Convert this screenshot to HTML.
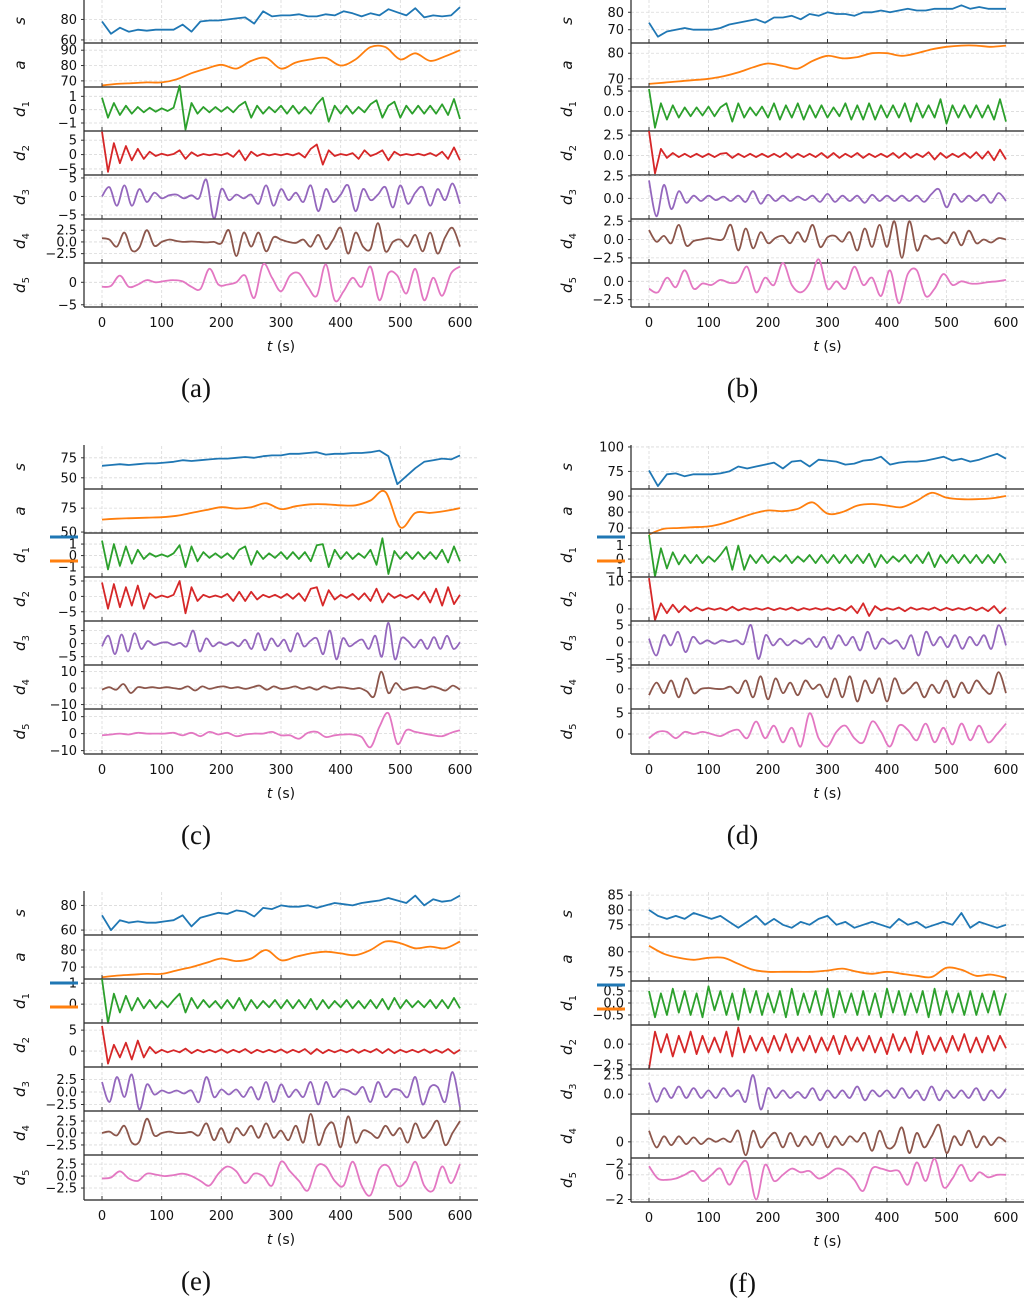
<!DOCTYPE html>
<html><head><meta charset="utf-8"><style>
body{margin:0;background:#fff}
svg{display:block;font-family:"DejaVu Sans","Liberation Sans",sans-serif}
</style></head><body>
<svg id="fig" width="1024" height="1300" viewBox="0 0 1024 1300" xmlns="http://www.w3.org/2000/svg"></svg>
<script>
// ---------- data (t spans 0..600 s, evenly spaced per array) ----------
const xTicks = [0,100,200,300,400,500,600];
const seriesNames = ['s','a','d1','d2','d3','d4','d5'];
const colors = ['#1f77b4','#ff7f0e','#2ca02c','#d62728','#9467bd','#8c564b','#e377c2'];

const aS=[78,66,72,68,70,69,70,70,70,75,68,78,79,79,80,81,82,76,88,83,84,84,85,83,83,85,84,88,86,83,86,84,90,87,84,91,82,84,83,84,92];
const aA=[67,68,68.5,69,69,71,75,78,80.5,78,83,85,78,82,84,85,80,84,92,92,84,88,83,86,90];
const aD1=[0.9,-0.6,0.5,-0.4,0.3,-0.3,0.2,-0.2,0.15,-0.15,0.1,-0.1,0.15,1.8,-1.5,0.5,-0.3,0.2,-0.2,0.2,-0.15,0.2,-0.2,0.3,0.6,-0.6,0.3,-0.3,0.2,-0.2,0.3,-0.3,0.3,-0.3,0.2,-0.3,0.4,0.9,-0.9,0.3,-0.3,0.3,-0.3,0.2,-0.2,0.4,0.7,-0.6,0.3,0.6,-0.6,0.3,-0.3,0.3,-0.3,0.3,-0.3,0.4,-0.4,0.8,-0.7];
const aD2=[8,-6,4,-3,3,-2,2,-1.5,1,-0.5,0.3,-0.3,0.2,1.5,-1.5,0.8,-0.5,0.2,-0.2,0.2,-0.2,0.5,-0.8,1.5,-2,1,-0.5,0.3,-0.3,0.2,-0.2,0.3,-0.3,0.5,-1,2,3.5,-3.5,1.5,-0.5,0.2,-0.2,0.5,-1.5,1.5,-0.5,0.3,1.5,-2,1,-0.3,0.2,-0.2,0.3,-0.3,0.5,-0.5,1,-1.5,2.5,-2];
const aD3=[0,2.5,-2.5,3,-2.5,2,-1.5,1,-0.5,0.3,0.5,-0.5,0.3,-0.5,4.5,-6,2,-1,0.5,-0.5,0.5,-2,3,-2.5,2,-1,1,-1.5,3,-4,2,-1.5,0.5,3,-4,2,-1,0.5,2.5,-3,3,-2,1,2.5,-2.5,2,-1,3.5,-2];
const aD4=[0.8,0.5,-1,2,-1.8,-1.2,2.5,-0.8,0,0.5,0.2,0,0.1,0,-0.1,0,-0.3,2.5,-3,2,-1,2,-2,1,0.5,0,-0.2,0.5,-1,1.5,-1.5,0.5,3,-2.5,2,-1,-1.5,4,-2,0,0.5,-1,1.5,-2,2,-2.5,1,3,-1];
const aD5=[-1,-0.8,1.5,-1,-0.5,0.5,0,0.3,0.5,0.2,-1,-1.5,3,-0.5,-0.5,0,1.5,-3.5,4,1,-2,1.5,2,-1,-3,4,-4,-2,1,-1,3.5,-4,2,1.5,-2.5,3,-4,1,-3,2,3.5];

const bS=[74,66,69,70,71,70,70,70,71,73,74,75,76,74,77,77,78,76,79,78,80,79,79,78,80,80,81,80,81,82,81,81,82,82,82,84,82,83,82,82,82];
const bA=[68,68.5,69,69.5,70,71,72.5,74.5,76,75,74,77,79,78,78.5,80,80,79,80,81.5,82.5,83,83,82.5,83];
const bD1=[0.55,-0.4,0.2,-0.2,0.15,-0.15,0.1,-0.12,0.1,-0.1,0.12,-0.12,0.1,0.2,-0.25,0.2,-0.15,0.1,-0.1,0.12,-0.15,0.2,-0.2,0.15,-0.15,0.2,-0.2,0.15,-0.15,0.15,-0.15,0.1,-0.12,0.2,-0.2,0.15,-0.2,0.2,-0.2,0.15,-0.15,0.15,-0.15,0.2,-0.25,0.2,-0.15,0.15,-0.15,0.3,-0.3,0.15,-0.15,0.15,-0.15,0.15,-0.15,0.15,-0.2,0.3,-0.25];
const bD2=[3,-2.2,0.8,-0.3,0.3,-0.2,0.2,-0.2,0.2,-0.2,0.2,-0.2,0.2,0.3,-0.3,0.2,-0.2,0.2,-0.2,0.2,-0.2,0.2,-0.2,0.3,-0.3,0.2,-0.2,0.2,-0.2,0.3,-0.3,0.3,-0.3,0.2,-0.2,0.3,-0.3,0.2,-0.2,0.2,-0.2,0.3,-0.3,0.3,-0.3,0.2,-0.2,0.4,-0.5,0.3,-0.3,0.2,-0.2,0.3,-0.3,0.4,-0.4,0.5,-0.6,0.7,-0.5];
const bD3=[2,-2,1.5,-1.2,0.8,-0.5,0.3,-0.3,0.3,-0.2,0.2,-0.3,0.3,-0.4,0.8,-0.6,0.4,-0.3,0.3,-0.3,0.2,-0.2,0.3,-0.4,0.5,-0.4,0.3,-0.3,0.3,-0.5,0.4,-0.3,0.3,-0.3,0.3,-0.3,0.3,-0.4,0.5,1,-1,0.5,-0.4,0.3,-0.3,0.4,-0.5,0.6,-0.3];
const bD4=[1.3,-0.3,0.5,-0.5,2,-0.8,-0.2,0,0.2,0,0.1,2,-1.5,1.5,-1.2,1,-0.5,0.2,0.5,-0.5,1,-0.3,2,-1,0.3,0.5,-0.3,1,-1.5,1.5,-1,2,-1,2.5,-2.5,2.5,-1.5,0.5,0,0.2,-0.5,1,-0.8,1.2,-0.5,0,-0.4,0.2,0];
const bD5=[-1,-1.5,0.5,-0.8,1.5,-1,-0.3,-0.5,0.2,-0.2,0,2,-1.5,0.5,-0.5,2.5,-0.5,-1.5,-0.2,3,-1,0,-1,2,-0.5,0.5,-2,1.5,-3,1,1.5,-2,-1,1,-0.5,0,-0.3,-0.3,-0.1,0,0.2];

const cS=[65,66,67,66,67,68,68,69,70,72,71,72,73,74,74,75,76,75,77,78,78,80,80,81,82,79,80,80,81,81,82,84,77,42,52,62,70,72,74,73,78];
const cA=[63,64,64.5,65,65.5,67,70,73,76,74.5,76,80,74,77,79,79,78,78,83,92,55,70,70,72,75];
const cD1=[1.3,-1.2,1,-0.9,0.8,-0.7,0.5,-0.3,0.2,-0.1,0.1,-0.1,0.2,0.9,-1,0.8,-0.5,0.3,-0.2,0.2,-0.2,0.2,-0.3,0.5,0.8,-0.8,0.4,-0.3,0.2,-0.2,0.3,-0.3,0.3,-0.3,0.3,-0.5,0.9,1,-1,0.5,-0.3,0.3,-0.3,0.2,-0.2,0.5,-0.8,1.5,-1.6,0.4,-0.3,0.3,-0.3,0.3,-0.3,0.3,-0.3,0.5,-0.6,0.8,-0.5];
const cD2=[4.5,-4,4,-3.5,3,-3,3.5,-4,1,-0.5,0.3,-0.3,0.5,5,-5.5,3,-1.5,0.5,-0.3,0.3,-0.3,0.8,-1.5,1.5,-1.5,1.5,-1,0.5,-0.3,0.5,-0.5,0.8,-0.8,1,-1.5,2.5,3,-3,2,-1,0.5,-0.5,0.8,-1,1,-1.5,2.5,-2,1,-0.5,0.5,-0.5,0.5,-1,1.5,-2,2.5,-3,3,-2.5,0.5];
const cD3=[-1,3,-4,3.5,-3,4,-2,1,-0.5,0.3,0.5,-0.5,0.3,-1,5,-3,2,-1,0.5,-0.5,0.5,-1,1.5,-2,4,-2.5,2,-1,1.5,-3,4,-1,1,2,-4,5,-6,2,-1,0.5,1.5,-2,3,-5,8,-6,2,1,-1.5,1.5,-2,2.5,-2,3,-2,0.5];
const cD4=[-1,0.5,-1,2.5,-3,0.5,0,0.5,0,0.5,0,-0.5,1,-1.5,1,-0.5,0.5,1,0,0.5,-0.5,0.5,1.5,-1,1,-0.5,0,1,-0.5,0.5,-1,1,-0.3,0.5,0.2,-0.5,0,-2,-5,10,-3,3,-1,0,0.5,-0.5,1,0,-1.5,1.5,-1];
const cD5=[-1,-0.5,0,-0.5,0.5,0,0,0,0.5,-1,0.5,-1.5,1,-0.5,0.5,-1.5,-0.5,0,0,1,-1,-1,-3,0.5,1,-2,-1,-0.5,-0.5,-2,-8,4,12,-6,2,1,0,-1,-1.5,0.5,2];

const dS=[76,60,72,73,70,72,72,72,73,75,80,78,80,82,84,78,85,86,80,87,86,85,82,83,86,87,90,82,84,85,85,86,88,90,86,88,85,87,90,93,88];
const dA=[66,69.5,70,70.5,71,73,76,79,81,80.5,82,86,79,80,84,85,84,83,87,92,89,88,88,88.5,90];
const dD1=[1.8,-1.3,0.8,-0.7,0.5,-0.4,0.3,-0.3,0.3,-0.3,0.2,-0.2,0.3,0.9,-0.8,1,-0.8,0.3,-0.3,0.3,-0.3,0.2,-0.2,0.3,-0.3,0.2,-0.2,0.3,-0.3,0.3,-0.3,0.3,-0.3,0.3,-0.3,0.3,-0.3,0.4,-0.6,0.3,-0.3,0.2,-0.2,0.3,-0.3,0.3,-0.3,0.5,-0.6,0.3,-0.3,0.3,-0.3,0.3,-0.3,0.3,-0.3,0.3,-0.3,0.4,-0.3];
const dD2=[11,-4,2,-1.5,1.5,-1.2,1,-0.8,0.5,-0.5,0.3,-0.3,0.3,-0.5,0.8,-0.5,0.3,-0.3,0.3,-0.3,0.4,-0.4,0.3,-0.3,0.5,-0.5,0.3,-0.3,0.3,-0.3,0.3,-0.4,0.4,-0.6,1,-1.5,2,-2.5,1,-0.5,0.3,-0.3,0.5,-0.8,0.5,-0.3,0.3,-0.3,0.5,-0.5,0.4,-0.4,0.3,-0.3,0.5,-0.5,0.5,-0.8,1,-1.5,0.5];
const dD3=[1,-4,2,-1,3,-3,1.5,-0.5,0.5,-0.5,0.5,0,0.5,-0.5,5,-5,2,-1,1,-1,0.5,-0.5,1,-1.5,1.5,-2,2,-1,1.5,-2.5,3,-2,1,-0.5,0.5,-2,2,-4,3,-1,1.5,-1.5,2,-2,1.5,-1,2,-2,5,-1];
const dD4=[-1.5,1.5,-1,2,-2,2.5,-1,0,0.2,0,0,0.5,-1,2,-2,3,-2.5,2.5,-1,1.5,-1.5,2,0,1,-2,2.5,-2,3,-3,2,-1,2.5,-3,2.5,-1,0,1.5,-2,1,-1,2,-2,1.5,-1,2,0,-1,4,-1];
const dD5=[-1,0.5,0.5,-1,0.5,0,0.5,0,-0.5,0.5,1,-1,3,-1,2,-2,1.5,-3,5,-1,-3,0.5,2,-1,-2,3,0.5,-3,2,1,-1.5,2.5,-2,1.5,-2.5,2.5,-1.5,2,-2,0,2.5];

const eS=[72,60,68,66,67,66,66,67,68,72,63,70,72,74,73,76,75,71,78,77,80,79,79,80,78,80,82,81,80,82,83,84,86,84,82,88,80,85,83,84,88];
const eA=[64,65,65.5,66,66,68,70,72.5,75,73.5,75,80,74,76,78,79,78,77,80,85,84,81,82,81,85];
const eD1=[1.2,-0.9,0.5,-0.4,0.4,-0.3,0.3,-0.2,0.2,-0.2,0.15,-0.15,0.2,0.5,-0.4,0.3,-0.2,0.2,-0.15,0.15,-0.2,0.2,-0.2,0.3,-0.3,0.2,-0.2,0.15,-0.15,0.2,-0.2,0.2,-0.2,0.2,-0.2,0.25,-0.25,0.2,-0.2,0.15,-0.15,0.2,-0.2,0.15,-0.2,0.2,-0.2,0.25,-0.25,0.3,-0.2,0.2,-0.15,0.15,-0.15,0.2,-0.2,0.2,-0.2,0.3,-0.2];
const eD2=[6,-3,1.5,-1.5,2,-2,2.5,-1.5,1,-0.5,0.3,-0.3,0.2,-0.3,0.6,-0.5,0.3,-0.3,0.3,-0.3,0.4,-0.4,0.3,-0.3,0.5,-0.5,0.3,-0.3,0.3,-0.3,0.4,-0.4,0.3,-0.3,0.5,-0.7,0.5,-0.5,0.3,-0.3,0.3,-0.3,0.4,-0.4,0.3,-0.3,0.5,-0.5,0.5,-0.5,0.3,-0.3,0.3,-0.3,0.4,-0.4,0.3,-0.4,0.5,-0.6,0.3];
const eD3=[2,-2,3,-1,3.5,-3.5,1.5,-0.5,0.3,-0.2,0.3,-0.3,0.3,-2,3,-1,0.5,-0.5,0.5,-1,1,-1.5,2,-2,1.5,-1,0.5,-1,2,-2.5,2,-1,0.5,0.3,-0.5,1,-2,2,-1,0.5,0.3,-1,3,-2.5,1,1,-2,4,-3];
const eD4=[0,0.3,-0.5,1.5,-2,-1.8,3,-0.5,0,0.3,0,0,0.2,-0.5,2,-1.5,1,-2,1,-0.5,1.5,-1,2,-1,0.5,-1.5,1.5,-2,4,-2.5,1,2,-3,3.5,-2,0.5,0,-1,1.5,-0.5,1,-2,2,-1,0.5,2.5,-2.5,0,2.5];
const eD5=[-0.5,-0.3,1,-0.5,-1,0.5,0.3,0,0.2,0.5,0,-1,-2,0.5,2,1,-1.5,0.5,0,-2,3,1,-1,-3,2,2,-1,-2,3,-2,-4,1.5,2,-2,-1,3,-2,-3,2,-1.5,2.5];

const fS=[80,78,77,78,77,79,78,77,78,76,74,76,78,75,77,75,74,76,75,77,78,75,76,74,75,76,75,74,77,75,76,74,75,76,75,79,74,76,75,74,75];
const fA=[81.5,79.5,78.5,78,78.5,78.5,77,75.5,75,75,75,75,75.3,75.8,75,74.5,75,74.5,74,73.7,76,75.5,74,74.3,73.5];
const fD1=[0.5,-0.6,0.4,-0.5,0.6,-0.4,0.5,-0.5,0.4,-0.6,0.7,-0.3,0.5,-0.5,0.4,-0.7,0.6,-0.4,0.5,-0.5,0.4,-0.4,0.5,-0.6,0.6,-0.5,0.4,-0.4,0.5,-0.5,0.6,-0.6,0.5,-0.4,0.4,-0.5,0.5,-0.5,0.4,-0.6,0.6,-0.4,0.5,-0.5,0.4,-0.4,0.5,-0.6,0.6,-0.5,0.5,-0.4,0.4,-0.5,0.5,-0.5,0.4,-0.4,0.5,-0.5,0.4];
const fD2=[-3,1.5,-1,1.2,-1.5,1,-1,1.5,-1.2,1,-1,0.8,-1,1.5,-1.5,2,-1,1,-0.8,0.8,-1,1,-0.8,1.2,-1,0.8,-0.8,1,-1,0.8,-0.8,1,-1.2,1,-0.8,0.8,-0.8,1,-1,0.8,-1.2,1.2,-0.8,0.8,-1,1.5,-1.2,1,-0.8,0.8,-1,1,-0.8,1.2,-1,0.8,-1,1,-0.8,1,-0.5];
const fD3=[1.5,-1,0.8,-0.5,1,-0.5,0.8,-0.5,0.5,-0.5,0.8,-0.3,0.5,-1,2.5,-2,0.8,-0.5,0.5,-0.5,0.3,-0.5,0.8,-0.8,0.5,-0.5,0.5,-0.5,1,-0.8,0.5,-0.3,0.5,-0.5,0.8,-0.5,0.5,-0.8,1,-0.8,0.5,-0.5,0.5,-0.5,0.8,-0.8,0.5,-0.5,0.7];
const fD4=[1,-0.5,0.5,-0.3,0.5,-0.2,0.4,-0.2,0.3,0,0.3,0,1,-1.2,1,-0.5,0.3,0.8,-0.5,0.8,-0.4,0.5,-0.3,0.8,-0.5,0.5,-0.3,0.5,0,0.8,-0.8,1,-0.5,-0.3,1.3,-1,0.8,-0.5,0.5,1.5,-1,0.5,-0.3,1,-0.5,0.5,-0.3,0.4,0];
const fD5=[0.7,-0.3,-0.4,-0.3,0,0.3,-0.5,0,0.5,-0.8,0.5,1,-2,0.8,-0.5,0,0.5,0.2,0.3,-0.3,0,0.5,0.3,-0.4,-1.3,0.5,0.5,0.3,0.3,-0.8,1,-0.5,1.3,-1,-0.3,0.8,-0.5,0.2,-0.2,0,0];

// y-axis ranges [min,max] per subplot
const yRangeA=[[57,100],[66,94.7],[-1.6,1.7],[-7.1,8.2],[-6.1,5.8],[-4.5,4.9],[-5.5,4.3]];
const yRangeB=[[62.4,87.6],[66.8,84],[-0.48,0.6],[-2.4,3],[-2.3,2.6],[-3.2,2.8],[-3.5,2.5]];
const yRangeC=[[36,91],[49,95],[-1.86,1.96],[-8,6.3],[-8.2,8.7],[-12.7,14],[-12,14.5]];
const yRangeD=[[57,102],[66.9,94.4],[-1.33,1.93],[-4.3,11.4],[-6.8,6.2],[-4.8,5.7],[-4.8,6]];
const yRangeE=[[56,91.7],[63,88.8],[-0.9,1.2],[-3.8,6.7],[-3.8,5],[-4.6,4.6],[-5,4.4]];
const yRangeF=[[70.9,86.4],[72.7,83.7],[-0.92,0.92],[-3,2.3],[-2.6,3.3],[-1.45,2.5],[-2.2,1.36]];

// y tick values per subplot
const yTicksA=[[80,60],[90,80,70],[1,0,-1],[5,0,-5],[5,0,-5],[2.5,0,-2.5],[0,-5]];
const yTicksB=[[80,70],[80,70],[0.5,0],[2.5,0],[2.5,0],[2.5,0,-2.5],[0,-2.5]];
const yTicksC=[[75,50],[75,50],[1,0,-1],[5,0,-5],[5,0,-5],[10,0,-10],[10,0,-10]];
const yTicksD=[[100,75],[90,80,70],[1,0,-1],[10,0],[5,0,-5],[5,0],[5,0]];
const yTicksE=[[80,60],[80,70],[1,0],[5,0],[2.5,0,-2.5],[2.5,0,-2.5],[2.5,0,-2.5]];
const yTicksF=[[85,80,75],[80,75],[0.5,0,-0.5],[0,-2.5],[2.5,0],[0,-2],[0,-2]];
// decimals for tick labels per panel/subplot
const yDecA=[0,0,0,0,0,1,0], yDecB=[0,0,1,1,1,1,1], yDecC=[0,0,0,0,0,0,0], yDecD=[0,0,0,0,0,0,0], yDecE=[0,0,0,0,1,1,1], yDecF=[0,0,1,1,1,0,0];

// ---------- layout ----------
const NS='http://www.w3.org/2000/svg';
const svg=document.getElementById('fig');
function mk(tag,attrs,parent){const e=document.createElementNS(NS,tag);for(const k in attrs)e.setAttribute(k,attrs[k]);(parent||svg).appendChild(e);return e;}

const panels=[
 {id:'a',col:0,top:-1,bottoms:[43,87,131,175,219,263,307],data:[aS,aA,aD1,aD2,aD3,aD4,aD5],yr:yRangeA,yt:yTicksA,dec:yDecA,legend:false},
 {id:'b',col:1,top:-1,bottoms:[43,87,131,175,219,263,307],data:[bS,bA,bD1,bD2,bD3,bD4,bD5],yr:yRangeB,yt:yTicksB,dec:yDecB,legend:false},
 {id:'c',col:0,top:445,bottoms:[489,533,577,621,665,709,754],data:[cS,cA,cD1,cD2,cD3,cD4,cD5],yr:yRangeC,yt:yTicksC,dec:yDecC,legend:true},
 {id:'d',col:1,top:445,bottoms:[489,533,577,621,665,709,754],data:[dS,dA,dD1,dD2,dD3,dD4,dD5],yr:yRangeD,yt:yTicksD,dec:yDecD,legend:true},
 {id:'e',col:0,top:891,bottoms:[935,979,1023,1067,1111,1155,1200],data:[eS,eA,eD1,eD2,eD3,eD4,eD5],yr:yRangeE,yt:yTicksE,dec:yDecE,legend:true},
 {id:'f',col:1,top:891,bottoms:[937,981,1025,1069,1114,1158,1202],data:[fS,fA,fD1,fD2,fD3,fD4,fD5],yr:yRangeF,yt:yTicksF,dec:yDecF,legend:true}
];
const cols=[{spine:84,right:478,x0:102,x600:460,lab:20},{spine:631,right:1024,x0:649,x600:1006,lab:567}];
const smooth=[false,true,false,false,true,true,true];

function fmt(v,d){let s=v.toFixed(d);return v<0?'\u2212'+s.slice(1):s;}
function linePath(pts){return 'M'+pts.map(p=>p[0].toFixed(1)+','+p[1].toFixed(1)).join('L');}
function smoothPath(p){let d='M'+p[0][0].toFixed(1)+','+p[0][1].toFixed(1);
 for(let i=0;i<p.length-1;i++){const p0=p[i-1]||p[i],p1=p[i],p2=p[i+1],p3=p[i+2]||p2;
  const c1x=p1[0]+(p2[0]-p0[0])/6,c1y=p1[1]+(p2[1]-p0[1])/6,c2x=p2[0]-(p3[0]-p1[0])/6,c2y=p2[1]-(p3[1]-p1[1])/6;
  d+='C'+c1x.toFixed(1)+','+c1y.toFixed(1)+' '+c2x.toFixed(1)+','+c2y.toFixed(1)+' '+p2[0].toFixed(1)+','+p2[1].toFixed(1);}
 return d;}

panels.forEach(P=>{
 const C=cols[P.col];
 const g=mk('g',{});
 
 
 const xs=t=>C.x0+(t/600)*(C.x600-C.x0);
 const last=P.bottoms[6];
 // vertical grid
 xTicks.forEach(t=>{
  const l=mk('line',{x1:xs(t),x2:xs(t),y1:P.top+1,y2:last,stroke:'#d9d9d9','stroke-width':0.8,'stroke-dasharray':'3,2'},g);
  
  
 });
 P.bottoms.forEach((bot,k)=>{
  const top=k===0?P.top:P.bottoms[k-1];
  const [lo,hi]=P.yr[k];
  const ys=v=>bot-(v-lo)/(hi-lo)*(bot-top);
  const sub=mk('g',{},g);
  
  
  P.yt[k].forEach(v=>{
   const y=ys(v);
   const gl=mk('line',{x1:C.spine,x2:C.right,y1:y,y2:y,stroke:'#d9d9d9','stroke-width':0.8,'stroke-dasharray':'3,2'},sub);
   
   
   mk('line',{x1:C.spine-3,x2:C.spine,y1:y,y2:y,stroke:'#333','stroke-width':1},sub);
   const tx=mk('text',{x:C.spine-7,y:y+4.5,'text-anchor':'end','font-size':13,fill:'#111'},sub);
   tx.textContent=fmt(v,P.dec[k]);
   
   
  });
  // series
  const arr=P.data[k];
  const pts=arr.map((v,i)=>[xs(i*600/(arr.length-1)),ys(v)]);
  const path=mk('path',{d:smooth[k]?smoothPath(pts):linePath(pts),fill:'none',stroke:colors[k],'stroke-width':1.8,'stroke-linejoin':'round'},sub);
  
  
  // bottom spine + x ticks
  const sp=mk('line',{x1:C.spine,x2:C.right,y1:bot,y2:bot,stroke:'#444','stroke-width':1.6},sub);
  
  
  xTicks.forEach(t=>mk('line',{x1:xs(t),x2:xs(t),y1:bot,y2:bot-4,stroke:'#333','stroke-width':1},sub));
  // y label
  const cy=(top+bot)/2;
  const yl=mk('text',{x:0,y:0,transform:`translate(${C.lab+5},${cy}) rotate(-90)`,'text-anchor':'middle','font-size':15,'font-style':'italic',fill:'#111'},sub);
  
  
  if(k<2){yl.textContent=seriesNames[k];}
  else{const t1=mk('tspan',{},yl);t1.textContent='d';const t2=mk('tspan',{'font-size':10,'dy':4,'font-style':'normal'},yl);t2.textContent=String(k-1);}
 });
 // left spine
 const ls=mk('line',{x1:C.spine,x2:C.spine,y1:P.top,y2:last,stroke:'#333','stroke-width':1.3},g);
 
 
 // x tick labels
 xTicks.forEach(t=>{
  const tx=mk('text',{x:xs(t),y:last+20,'text-anchor':'middle','font-size':13,fill:'#111'},g);
  tx.textContent=String(t);
  
  
 });
 const xt=mk('text',{x:(C.x0+C.x600)/2,y:last+44,'text-anchor':'middle','font-size':14,fill:'#111'},g);
 
 
 const ti=mk('tspan',{'font-style':'italic'},xt);ti.textContent='t';
 const ts=mk('tspan',{},xt);ts.textContent=' (s)';
 const cap=mk('text',{x:(C.x0+C.x600)/2-85,y:last+90,'text-anchor':'middle','font-size':27,'font-family':'"Liberation Serif",serif',fill:'#111'},g);
 cap.textContent='('+P.id+')';
 
 
 if(P.legend){
  const d1top=P.bottoms[1];
  const l1=mk('line',{x1:C.spine-34,x2:C.spine-6,y1:d1top+4,y2:d1top+4,stroke:colors[0],'stroke-width':3},g);
  
  
  const l2=mk('line',{x1:C.spine-34,x2:C.spine-6,y1:d1top+28,y2:d1top+28,stroke:colors[1],'stroke-width':3},g);
  
  
 }
});
</script>
</body></html>
